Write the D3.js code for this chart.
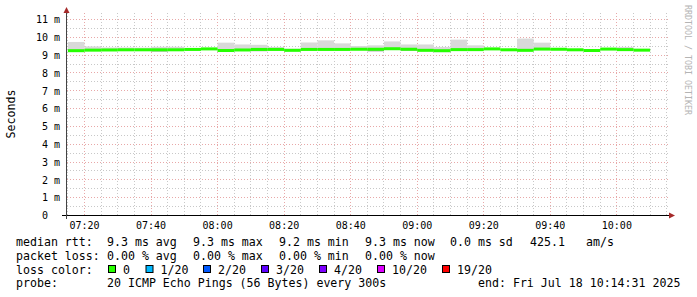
<!DOCTYPE html>
<html>
<head>
<meta charset="utf-8">
<script src="https://cdn.jsdelivr.net/npm/d3@7"></script>
<style>
body { margin: 0; background: #fff; }
text { font-family: "DejaVu Sans Mono", monospace; fill: #000; }
</style>
</head>
<body>
<svg id="chart"></svg>
<script>
// 5 minute buckets (start time of each step)
var bucketTimes = ["07:15","07:20","07:25","07:30","07:35","07:40","07:45","07:50","07:55",
                   "08:00","08:05","08:10","08:15","08:20","08:25","08:30","08:35","08:40","08:45","08:50","08:55",
                   "09:00","09:05","09:10","09:15","09:20","09:25","09:30","09:35","09:40","09:45","09:50","09:55",
                   "10:00","10:05"];
// median rtt in ms
var median   = [9.25,9.28,9.29,9.30,9.30,9.30,9.30,9.32,9.35,
                9.26,9.29,9.32,9.32,9.27,9.32,9.32,9.32,9.33,9.33,9.36,9.33,
                9.27,9.25,9.31,9.31,9.35,9.30,9.27,9.34,9.33,9.30,9.26,9.34,
                9.31,9.28];
// smoke: highest and lowest ping of each step, ms
var smokeMax = [9.74,9.49,9.43,9.43,9.42,9.47,9.47,9.40,9.37,
                9.70,9.60,9.58,9.46,9.36,9.71,9.83,9.66,9.51,9.55,9.77,9.60,
                9.60,9.46,9.87,9.55,9.36,9.34,9.93,9.70,9.36,9.33,9.30,9.37,
                9.46,9.32];
var smokeMin = [9.22,9.25,9.26,9.27,9.27,9.20,9.27,9.29,9.32,
                9.18,9.26,9.22,9.29,9.24,9.29,9.29,9.29,9.30,9.21,9.33,9.25,
                9.24,9.17,9.28,9.28,9.32,9.27,9.24,9.31,9.30,9.27,9.23,9.31,
                9.28,9.25];

var yTicks      = [0,1,2,3,4,5,6,7,8,9,10,11];
var yTickLabels = ["0\u00a0\u00a0","1 m","2 m","3 m","4 m","5 m","6 m","7 m","8 m","9 m","10 m","11 m"];
var xTickLabels = ["07:20","07:40","08:00","08:20","08:40","09:00","09:20","09:40","10:00"];

var lossLabels = ["0","1/20","2/20","3/20","4/20","10/20","19/20"];
var lossColors = ["#26ff00","#00b8ff","#0059ff","#5e00ff","#7e00ff","#dd00ff","#ff0000"];

var W = 697, H = 297;
var plotL = 67, plotR = 667, plotT = 13, plotB = 215.5;

var svg = d3.select("#chart")
    .attr("width", W)
    .attr("height", H);

var parseTime = d3.timeParse("%H:%M:%S");
var parseHM = d3.timeParse("%H:%M");

var x = d3.scaleTime()
    .domain([parseTime("07:14:44"), parseTime("10:15:04")])
    .range([plotL, plotR]);

var y = d3.scaleLinear()
    .domain([0, 11.365])
    .range([plotB, plotT]);

// grid
var grid = svg.append("g");
var minorT = d3.timeMinute.every(5).range(x.domain()[0], x.domain()[1]);
function px(v) { return Math.round(v - 0.5) + 0.5; }

grid.selectAll("line.vmin")
    .data(minorT.filter(function(d) { return d.getMinutes() % 20 != 0; }))
    .enter().append("line")
        .attr("x1", function(d) { return px(x(d)); })
        .attr("x2", function(d) { return px(x(d)); })
        .attr("y1", plotT).attr("y2", plotB)
        .attr("stroke", "#c8c8c8").attr("stroke-dasharray", "1,2");
grid.selectAll("line.vmaj")
    .data(minorT.filter(function(d) { return d.getMinutes() % 20 == 0; }))
    .enter().append("line")
        .attr("x1", function(d) { return px(x(d)); })
        .attr("x2", function(d) { return px(x(d)); })
        .attr("y1", plotT).attr("y2", plotB)
        .attr("stroke", "#e8a8a8").attr("stroke-dasharray", "1,2");

grid.selectAll("line.hmin")
    .data(d3.range(0.5, 11.5, 1))
    .enter().append("line")
        .attr("x1", plotL).attr("x2", plotR + 1)
        .attr("y1", function(d) { return px(y(d)); })
        .attr("y2", function(d) { return px(y(d)); })
        .attr("stroke", "#c8c8c8").attr("stroke-dasharray", "1,2");
grid.selectAll("line.hmaj")
    .data(yTicks.slice(1))
    .enter().append("line")
        .attr("x1", plotL).attr("x2", plotR + 1)
        .attr("y1", function(d) { return px(y(d)); })
        .attr("y2", function(d) { return px(y(d)); })
        .attr("stroke", "#e8a8a8").attr("stroke-dasharray", "1,2");

// smoke + median
var data = bucketTimes.map(function(t, i) {
    var t0 = parseHM(t);
    return { t0: t0, t1: d3.timeMinute.offset(t0, 5), med: median[i], hi: smokeMax[i], lo: smokeMin[i] };
});
function x0(d) { return Math.max(plotL, x(d.t0)); }
function bw(d) { return x(d.t1) - x0(d); }

var plot = svg.append("g");
plot.selectAll("rect.hi")
    .data(data).enter().append("rect")
        .attr("x", x0).attr("width", bw)
        .attr("y", function(d) { return y(d.hi); })
        .attr("height", function(d) { return y(d.med) - y(d.hi); })
        .attr("fill", "#d9d9d9");
plot.selectAll("rect.lo")
    .data(data).enter().append("rect")
        .attr("x", x0).attr("width", bw)
        .attr("y", function(d) { return y(d.med); })
        .attr("height", function(d) { return y(d.lo) - y(d.med); })
        .attr("fill", "#a4a4a4");
plot.selectAll("rect.med")
    .data(data).enter().append("rect")
        .attr("x", x0).attr("width", bw)
        .attr("y", function(d) { return y(d.med) - 1.5; })
        .attr("height", 3)
        .attr("fill", lossColors[0]);

// axes
svg.append("line")
    .attr("x1", 62).attr("x2", 670).attr("y1", plotB).attr("y2", plotB)
    .attr("stroke", "#000");
svg.append("line")
    .attr("x1", 66.5).attr("x2", 66.5).attr("y1", 219).attr("y2", 11)
    .attr("stroke", "#444");
svg.append("path")
    .attr("d", "M669,212.5L675,215.5L669,218.5Z")
    .attr("fill", "#a52a2a");
svg.append("path")
    .attr("d", "M63.5,13L66.5,7L69.5,13Z")
    .attr("fill", "#a52a2a");

// tick labels
svg.selectAll("text.yt")
    .data(yTicks).enter().append("text")
        .attr("x", 60)
        .attr("y", function(d) { return y(d) + 3.8; })
        .attr("text-anchor", "end")
        .style("font-size", "10px")
        .text(function(d, i) { return yTickLabels[i]; });

svg.selectAll("text.xt")
    .data(xTickLabels).enter().append("text")
        .attr("x", function(d) { return x(parseHM(d)); })
        .attr("y", 228.5)
        .attr("text-anchor", "middle")
        .style("font-size", "10px")
        .text(function(d) { return d; });

svg.append("text")
    .attr("transform", "translate(14.5,114) rotate(-90)")
    .attr("text-anchor", "middle")
    .style("font-size", "11.6px")
    .text("Seconds");

svg.append("text")
    .attr("transform", "translate(685,5) rotate(90)")
    .style("font-size", "8.3px")
    .style("fill", "#b4b4b4")
    .text("RRDTOOL / TOBI OETIKER");

// legend
var legend = [
    [16, 246, "median rtt:"], [107, 246, "9.3 ms avg"], [193, 246, "9.3 ms max"], [279, 246, "9.2 ms min"],
    [365, 246, "9.3 ms now"], [450, 246, "0.0 ms sd"], [530, 246, "425.1"], [586, 246, "am/s"],
    [16, 260, "packet loss:"], [107, 260, "0.00 % avg"], [193, 260, "0.00 % max"], [279, 260, "0.00 % min"],
    [365, 260, "0.00 % now"],
    [16, 273.5, "loss color:"],
    [16, 287, "probe:"], [107, 287, "20 ICMP Echo Pings (56 Bytes) every 300s"], [478, 287, "end: Fri Jul 18 10:14:31 2025"]
];
svg.selectAll("text.lg")
    .data(legend).enter().append("text")
        .attr("x", function(d) { return d[0]; })
        .attr("y", function(d) { return d[1]; })
        .style("font-size", "11.6px")
        .style("white-space", "pre")
        .text(function(d) { return d[2]; });

var boxX = [108.5, 146, 203.5, 261.5, 319.5, 377.5, 442.5];
var lc = svg.append("g");
lc.selectAll("rect")
    .data(lossLabels).enter().append("rect")
        .attr("x", function(d, i) { return boxX[i]; })
        .attr("y", 265.5)
        .attr("width", 7).attr("height", 7)
        .attr("fill", function(d, i) { return lossColors[i]; })
        .attr("stroke", "#000");
lc.selectAll("text")
    .data(lossLabels).enter().append("text")
        .attr("x", function(d, i) { return boxX[i] + 14.5; })
        .attr("y", 273.5)
        .style("font-size", "11.6px")
        .text(function(d) { return d; });
</script>
</body>
</html>
